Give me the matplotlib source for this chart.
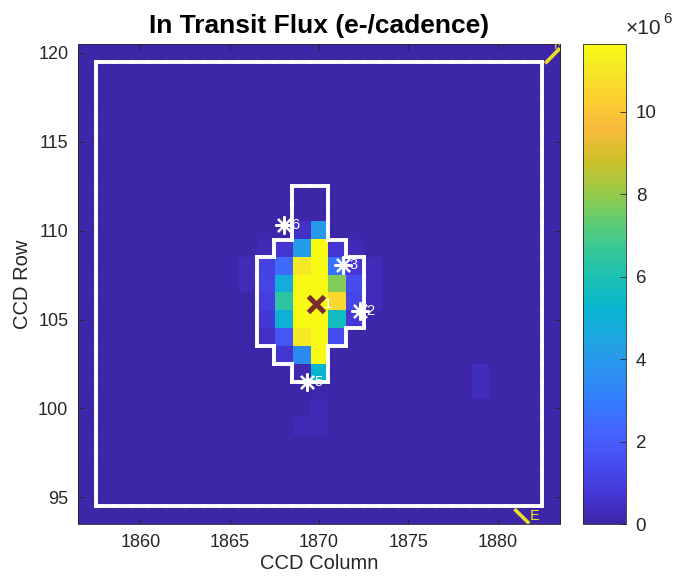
import numpy as np
import matplotlib
matplotlib.use('Agg')
import matplotlib.pyplot as plt
from matplotlib.colors import LinearSegmentedColormap
from matplotlib.collections import LineCollection

plt.rcParams['font.family'] = ['Liberation Sans', 'DejaVu Sans']

# target pixel grid
col_min, col_max = 1857, 1883
row_min, row_max = 94, 120

# pixels with flux above the background, e-/cadence
pix_row = [110, 110,
           109, 109, 109, 109, 109, 109,
           108, 108, 108, 108, 108, 108, 108, 108,
           107, 107, 107, 107, 107, 107, 107, 107,
           106, 106, 106, 106, 106, 106, 106,
           105, 105, 105, 105, 105, 105,
           104, 104, 104, 104, 104,
           103, 103, 103,
           102, 102, 102,
           101, 100, 99, 99]
pix_col = [1869, 1870,
           1867, 1868, 1869, 1870, 1871, 1872,
           1866, 1867, 1868, 1869, 1870, 1871, 1872, 1873,
           1866, 1867, 1868, 1869, 1870, 1871, 1872, 1873,
           1867, 1868, 1869, 1870, 1871, 1872, 1873,
           1867, 1868, 1869, 1870, 1871, 1872,
           1867, 1868, 1869, 1870, 1871,
           1868, 1869, 1870,
           1869, 1870, 1879,
           1879, 1870, 1869, 1870]
pix_flux = [0.5e6, 4.0e6,
            0.25e6, 0.7e6, 4.1e6, 11.6e6, 0.7e6, 0.25e6,
            0.3e6, 1.1e6, 2.5e6, 11.1e6, 11.6e6, 2.7e6, 0.8e6, 0.3e6,
            0.3e6, 1.2e6, 4.8e6, 11.6e6, 11.6e6, 7.8e6, 1.5e6, 0.3e6,
            1.0e6, 6.4e6, 11.6e6, 11.6e6, 10.6e6, 1.3e6, 0.3e6,
            0.8e6, 5.0e6, 11.6e6, 11.6e6, 5.7e6, 0.8e6,
            0.5e6, 1.8e6, 11.1e6, 11.6e6, 1.5e6,
            0.7e6, 3.5e6, 11.6e6,
            0.15e6, 5.2e6, 0.35e6,
            0.35e6, 0.25e6, 0.25e6, 0.25e6]

# optimal aperture, first and last column of each row
ap_row = [112, 111, 110, 109, 108, 107, 106, 105, 104, 103, 102]
ap_first = [1869, 1869, 1869, 1868, 1867, 1867, 1867, 1867, 1867, 1868, 1869]
ap_last = [1870, 1870, 1870, 1871, 1872, 1872, 1872, 1872, 1871, 1870, 1870]

# full target mask
mask_cols = (1858, 1882)
mask_rows = (95, 119)

# catalog stars and fitted centroid
star_col = [1872.27, 1871.33, 1869.32, 1868.05]
star_row = [105.46, 108.07, 101.50, 110.32]
star_lab = ['2', '3', '5', '6']
cen_col, cen_row, cen_lab = 1869.83, 105.87, '1'

# compass
north_col = [1882.67, 1883.5]
north_row = [119.41, 120.26]
east_col = [1880.95, 1881.77]
east_row = [94.34, 93.53]

flux_max = 11.65e6
cbar_ticks = [0, 2e6, 4e6, 6e6, 8e6, 10e6]

# parula
parula_rgb = [(0.2422, 0.1504, 0.6603), (0.2706, 0.2147, 0.8364), (0.2813, 0.3006, 0.9414),
              (0.2699, 0.3892, 0.9906), (0.1963, 0.4847, 0.9892), (0.1687, 0.5703, 0.9359),
              (0.1248, 0.6459, 0.8883), (0.0297, 0.7082, 0.8163), (0.0964, 0.7500, 0.7120),
              (0.2161, 0.7843, 0.5923), (0.3909, 0.8029, 0.4354), (0.6174, 0.7876, 0.2612),
              (0.8203, 0.7498, 0.1535), (0.9728, 0.7298, 0.2394), (0.9892, 0.8136, 0.1885),
              (0.9597, 0.9135, 0.1423), (0.9769, 0.9839, 0.0805)]
pos = [0, 4, 8, 12, 16, 20, 24, 28, 32, 36, 40, 44, 48, 52, 56, 60, 63]
parula = LinearSegmentedColormap.from_list('parula', list(zip([p / 63 for p in pos], parula_rgb)), N=256)


def edges(pixels):
    # outline segments of a set of (col, row) pixels
    segs = []
    for c, r in pixels:
        if (c, r + 1) not in pixels:
            segs.append([(c - .5, r + .5), (c + .5, r + .5)])
        if (c, r - 1) not in pixels:
            segs.append([(c - .5, r - .5), (c + .5, r - .5)])
        if (c - 1, r) not in pixels:
            segs.append([(c - .5, r - .5), (c - .5, r + .5)])
        if (c + 1, r) not in pixels:
            segs.append([(c + .5, r - .5), (c + .5, r + .5)])
    return segs


cols = np.arange(col_min, col_max + 1)
rows = np.arange(row_min, row_max + 1)
img = np.zeros((len(rows), len(cols)))
for c, r, f in zip(pix_col, pix_row, pix_flux):
    img[r - row_min, c - col_min] = f

aperture = set()
for r, c0, c1 in zip(ap_row, ap_first, ap_last):
    for c in range(c0, c1 + 1):
        aperture.add((c, r))
mask = set((c, r) for c in range(mask_cols[0], mask_cols[1] + 1)
           for r in range(mask_rows[0], mask_rows[1] + 1))

fig = plt.figure(figsize=(6.89, 5.81), dpi=100)
ax = fig.add_axes([0.1132, 0.0981, 0.6996, 0.8262])
im = ax.imshow(img, origin='lower', cmap=parula, vmin=0, vmax=flux_max, aspect='auto',
               interpolation='nearest',
               extent=(col_min - .5, col_max + .5, row_min - .5, row_max + .5))

ax.add_collection(LineCollection(edges(mask), colors='white', linewidths=2.8, capstyle='projecting'))
ax.add_collection(LineCollection(edges(aperture), colors='white', linewidths=2.8, capstyle='projecting'))

ax.plot(star_col, star_row, ls='none', marker=(8, 2, 0), ms=13, mew=1.6, color='white')
for c, r, s in zip(star_col, star_row, star_lab):
    ax.text(c + 0.4, r, s, color='white', fontsize=10.5, ha='left', va='center')
ax.plot(cen_col, cen_row, ls='none', marker='x', ms=11, mew=3.6, color='#7a2d2b')
ax.text(cen_col + 0.45, cen_row, cen_lab, color='white', fontsize=10.5, ha='left', va='center')

yel = '#eadf22'
ax.plot(north_col, north_row, color=yel, lw=2.6, solid_capstyle='butt')
ax.text(1883.15, 120.45, 'N', color=yel, fontsize=10.5, ha='left', va='center', clip_on=True)
ax.plot(east_col, east_row, color=yel, lw=2.6, solid_capstyle='butt')
ax.text(1881.8, 93.95, 'E', color=yel, fontsize=10.5, ha='left', va='center', clip_on=True)

ax.set_xlim(col_min - .5, col_max + .5)
ax.set_ylim(row_min - .5, row_max + .5)
ax.set_xticks(np.arange(1860, 1881, 5))
ax.set_yticks(np.arange(95, 121, 5))
ax.tick_params(direction='in', top=True, right=True, length=4, width=0.6, color='#262626',
               labelcolor='#262626', labelsize=13, pad=7)
for s in ax.spines.values():
    s.set_linewidth(0.6)
    s.set_color('#262626')
ax.set_xlabel('CCD Column', fontsize=14.5, color='#262626', labelpad=2)
ax.set_ylabel('CCD Row', fontsize=14.5, color='#262626', labelpad=4)
ax.set_title('In Transit Flux (e-/cadence)', fontsize=19, fontweight='bold', pad=8)

cax = fig.add_axes([0.8457, 0.0981, 0.0628, 0.8262])
cb = fig.colorbar(im, cax=cax, ticks=cbar_ticks)
cb.ax.set_yticklabels(['%d' % (t / 1e6) for t in cbar_ticks])
cax.tick_params(direction='in', length=4, width=0.6, color='#262626', labelcolor='#262626',
                labelsize=13.5, pad=7)
cb.outline.set_linewidth(0.6)
cb.outline.set_edgecolor('#262626')
fig.text(626 / 689, 1 - 28 / 581, '×10', fontsize=15, color='#262626', ha='left', va='center')
fig.text(663 / 689, 1 - 19 / 581, '6', fontsize=11, color='#262626', ha='left', va='center')

fig.savefig('out.png', dpi=100)
